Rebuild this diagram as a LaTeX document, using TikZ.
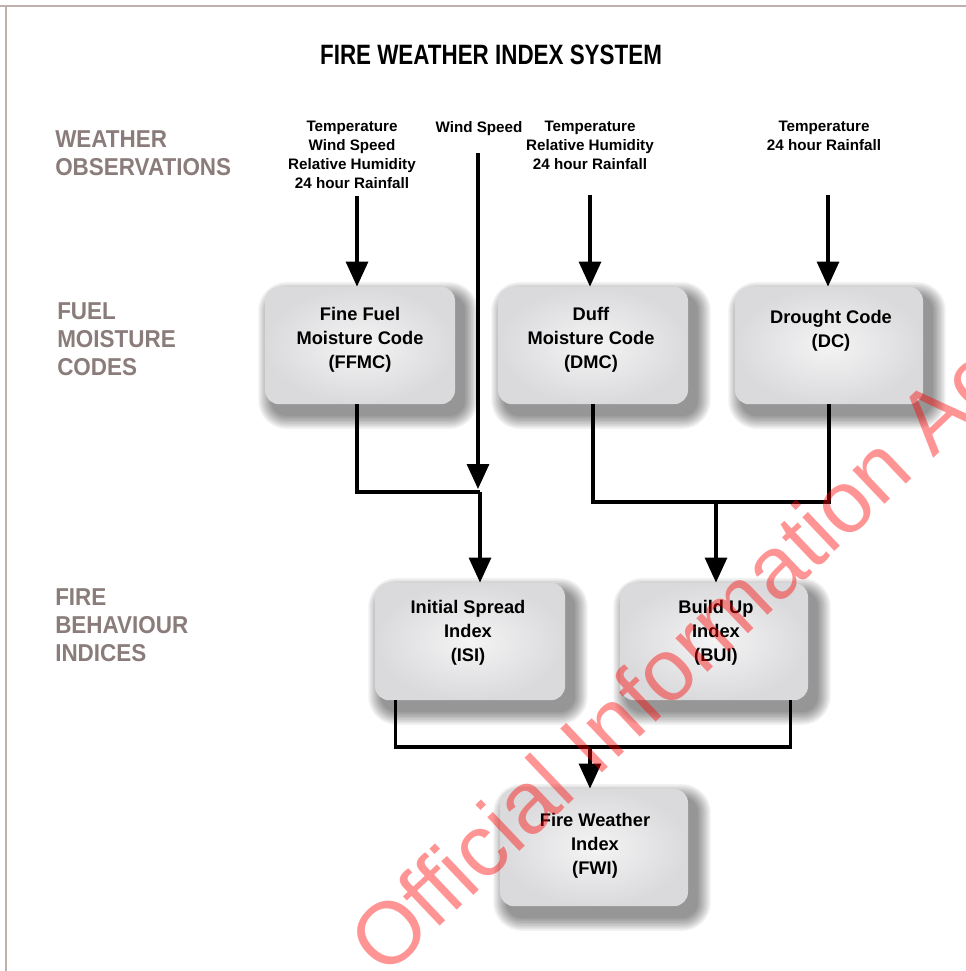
\documentclass[tikz,border=0pt]{standalone}
\usepackage{fontspec}
\setmainfont{Liberation Sans}
\newfontfamily\titlefont[FakeStretch=0.8]{Liberation Sans}
\newfontfamily\sidefont[FakeStretch=0.92]{Liberation Sans}
\usetikzlibrary{arrows.meta}
\pgfdeclarelayer{background}
\pgfsetlayers{background,main}
\definecolor{sidegrey}{RGB}{138,124,122}
\definecolor{framegrey}{RGB}{190,176,170}
\definecolor{boxedge}{RGB}{218,218,220}
\definecolor{boxmid}{RGB}{244,244,245}

\begin{document}
\begin{tikzpicture}[x=0.75pt,y=-0.75pt,
  box/.style={rounded corners=10.5pt, minimum height=88pt, inner sep=0pt,
    shading=radial, inner color=boxmid, outer color=boxedge},
  boxtext/.style={anchor=north, inner sep=0pt, align=center,
    font=\bfseries\fontsize{13.7}{18}\selectfont},
  obs/.style={anchor=north, inner sep=0pt, align=center,
    font=\bfseries\fontsize{11.4}{14.25}\selectfont},
  side/.style={anchor=north west, inner sep=0pt, align=left, text=sidegrey,
    font=\sidefont\bfseries\fontsize{18.3}{21}\selectfont},
  link/.style={line width=2.4pt},
  arr/.style={link, -{Triangle[length=18.75pt,width=16.5pt]}},
  stamp/.style={anchor=base west, rotate=43.5, inner sep=0pt, text=red,
    text opacity=0.42, font=\fontsize{66}{66}\selectfont},
]
\useasboundingbox (0,0) rectangle (966,971);
\draw[framegrey, line width=1.5pt] (0,6) -- (966,6);
\draw[framegrey, line width=1.5pt] (6,6) -- (6,971);

% heading
\node[anchor=north, inner sep=0pt, font=\titlefont\bfseries\fontsize{21}{25}\selectfont]
  (title) at (491,45) {FIRE WEATHER INDEX SYSTEM};

% row captions
\node[side] (rowobs) at (55,130) {WEATHER\\OBSERVATIONS};
\node[side] (rowfuel) at (57,302) {FUEL\\MOISTURE\\CODES};
\node[side] (rowfire) at (55,588) {FIRE\\BEHAVIOUR\\INDICES};

% weather inputs
\node[obs] (obs1) at (352,121) {Temperature\\Wind Speed\\Relative Humidity\\24 hour Rainfall};
\node[obs] (obs2) at (479,121) {Wind Speed};
\node[obs] (obs3) at (590,121) {Temperature\\Relative Humidity\\24 hour Rainfall};
\node[obs] (obs4) at (824,121) {Temperature\\24 hour Rainfall};

% code and index boxes
\node[box, minimum width=142.5pt] (ffmc) at (360,345.5) {};
\node[box, minimum width=142.5pt] (dmc) at (593,345.5) {};
\node[box, minimum width=141pt] (dc) at (829,345.5) {};
\node[box, minimum width=142.5pt] (isi) at (470,641.5) {};
\node[box, minimum width=141pt] (bui) at (714,641.5) {};
\node[box, minimum width=141pt] (fwi) at (594,847.5) {};

% soft drop shadows behind the boxes
\begin{pgfonlayer}{background}
\fill[white] (0,0) rectangle (966,971);
\foreach \b in {ffmc,dmc,dc,isi,bui,fwi}{
  \foreach \k in {9,...,1}{
    \pgfmathsetmacro{\grow}{1.2*\k}
    \pgfmathsetmacro{\rad}{10.5+1.2*\k}
    \fill[black, opacity=0.055, rounded corners=\rad pt]
      ([xshift=6pt-\grow pt, yshift=-7.5pt-\grow pt]\b.south west) rectangle
      ([xshift=6pt+\grow pt, yshift=-7.5pt+\grow pt]\b.north east);
  }
}
\end{pgfonlayer}

\node[boxtext] (ffmcT) at (360,307) {Fine Fuel\\Moisture Code\\(FFMC)};
\node[boxtext] (dmcT) at (591,307) {Duff\\Moisture Code\\(DMC)};
\node[boxtext] (dcT) at (831,310) {Drought Code\\(DC)};
\node[boxtext] (isiT) at (468,600) {Initial Spread\\Index\\(ISI)};
\node[boxtext] (buiT) at (716,600) {Build Up\\Index\\(BUI)};
\node[boxtext] (fwiT) at (595,813) {Fire Weather\\Index\\(FWI)};

% connector start and junction points
\coordinate (s1) at (357,196);
\coordinate (s2) at (478,153);
\coordinate (s3) at (590,195);
\coordinate (s4) at (828,195);
\coordinate (w1) at (478,489);
\coordinate (j1) at (480,492);
\coordinate (j2) at (716,502);
\coordinate (j3) at (590,747);

% observations into the moisture codes
\draw[arr] (s1) -- (s1 |- ffmc.north);
\draw[arr] (s3) -- (s3 |- dmc.north);
\draw[arr] (s4) -- (s4 |- dc.north);
\draw[arr] (s2) -- (w1);

% codes into the behaviour indices
\draw[link] (s1 |- ffmc.south) |- (j1);
\draw[arr] (j1) -- (j1 |- isi.north);
\draw[link] (dmc.south) |- (j2) -| (dc.south);
\draw[arr] (j2) -- (j2 |- bui.north);

% indices into the FWI
\draw[link] ([xshift=15.75pt]isi.south west) |- (j3) -| ([xshift=-13.5pt]bui.south east);
\draw[arr] (j3) -- (j3 |- fwi.north);

% release stamp
\node[stamp] (release) at (385,979) {Official Information Act};
\end{tikzpicture}
\end{document}
